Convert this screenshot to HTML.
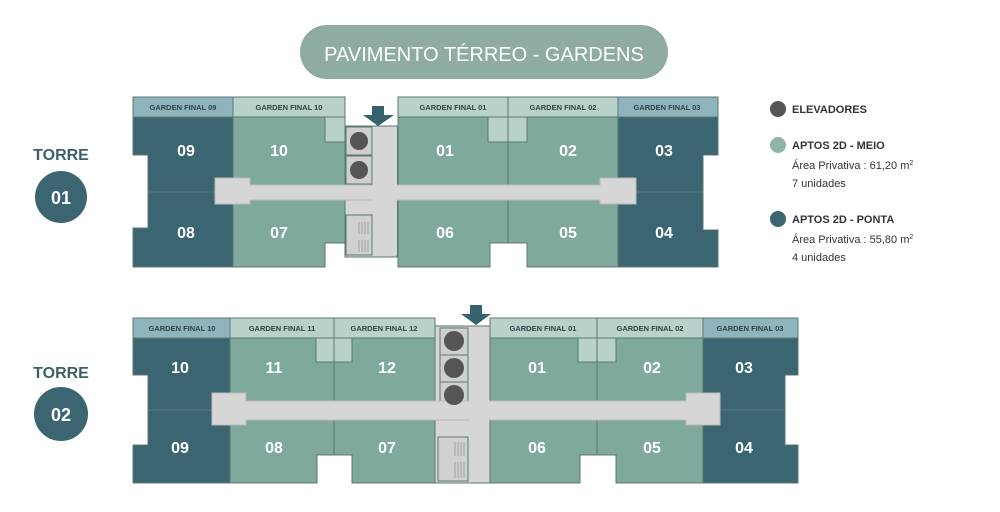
<!DOCTYPE html>
<html><head><meta charset="utf-8"><style>
html,body{margin:0;padding:0;background:#fff;width:1000px;height:512px;overflow:hidden}
svg{display:block}
.g{font-family:"Liberation Sans",sans-serif;font-weight:bold;font-size:7.5px;fill:#2d4448;text-anchor:middle}
.n{font-family:"Liberation Sans",sans-serif;font-weight:bold;font-size:16px;fill:#fff;text-anchor:middle}
.l{font-family:"Liberation Sans",sans-serif;font-size:11px;fill:#333}
</style></head><body>
<svg width="1000" height="512" viewBox="0 0 1000 512" xmlns="http://www.w3.org/2000/svg">
<rect x="300" y="25" width="368" height="54" rx="27" fill="#8eaca1"/>
<text x="484" y="61" text-anchor="middle" font-family="Liberation Sans,sans-serif" font-size="20" fill="#fff">PAVIMENTO TÉRREO - GARDENS</text>

<text x="61" y="160" text-anchor="middle" font-family="Liberation Sans,sans-serif" font-weight="bold" font-size="16" fill="#3e5f66">TORRE</text>
<circle cx="61" cy="197" r="26" fill="#3b6570"/>
<text x="61" y="204" class="n" style="font-size:18px">01</text>
<text x="61" y="378" text-anchor="middle" font-family="Liberation Sans,sans-serif" font-weight="bold" font-size="16" fill="#3e5f66">TORRE</text>
<circle cx="61" cy="414" r="27" fill="#3b6570"/>
<text x="61" y="421" class="n" style="font-size:18px">02</text>

<g stroke="#5c7772" stroke-width="1">
<!-- ===== TOWER 1 ===== -->
<rect x="133" y="97" width="100" height="20" fill="#8fb4bd"/>
<rect x="233" y="97" width="112" height="20" fill="#b8d1ca"/>
<rect x="398" y="97" width="110" height="20" fill="#b8d1ca"/>
<rect x="508" y="97" width="110" height="20" fill="#b8d1ca"/>
<rect x="618" y="97" width="100" height="20" fill="#8fb4bd"/>
<path d="M133 117H233V267H133V228H148V155H133Z" fill="#3b6570"/>
<line x1="148" y1="192" x2="233" y2="192"/>
<rect x="233" y="117" width="112" height="75" fill="#7ea99c"/>
<rect x="325" y="117" width="20" height="25" fill="#b8d1ca"/>
<path d="M233 192H345V243H325V267H233Z" fill="#7ea99c"/>
<rect x="398" y="117" width="110" height="75" fill="#7ea99c"/>
<rect x="488" y="117" width="20" height="25" fill="#b8d1ca"/>
<rect x="508" y="117" width="110" height="75" fill="#7ea99c"/>
<rect x="508" y="117" width="19" height="25" fill="#b8d1ca"/>
<path d="M398 192H508V243H490V267H398Z" fill="#7ea99c"/>
<path d="M508 192H618V267H527V243H508Z" fill="#7ea99c"/>
<path d="M618 117H718V155H703V230H718V267H618Z" fill="#3b6570"/>
<line x1="618" y1="192" x2="703" y2="192"/>
<rect x="345" y="126" width="52" height="131" fill="#d6d6d6"/>
<rect x="346" y="127" width="26" height="28" fill="#cfcfcf"/>
<rect x="346" y="156" width="26" height="28" fill="#cfcfcf"/>
<rect x="346" y="215" width="26" height="40" fill="#d0d0d0"/>
<path d="M215 178H250V185H600V178H636V204H600V200H250V204H215Z" fill="#d6d6d6" stroke="#bbb"/>
<rect x="373" y="127" width="24" height="128" fill="#d6d6d6" stroke="none"/>

<!-- ===== TOWER 2 ===== -->
<rect x="133" y="318" width="97" height="20" fill="#8fb4bd"/>
<rect x="230" y="318" width="104" height="20" fill="#b8d1ca"/>
<rect x="334" y="318" width="101" height="20" fill="#b8d1ca"/>
<rect x="490" y="318" width="107" height="20" fill="#b8d1ca"/>
<rect x="597" y="318" width="106" height="20" fill="#b8d1ca"/>
<rect x="703" y="318" width="95" height="20" fill="#8fb4bd"/>
<path d="M133 338H230V483H133V445H148V375H133Z" fill="#3b6570"/>
<line x1="148" y1="410" x2="230" y2="410"/>
<rect x="230" y="338" width="104" height="72" fill="#7ea99c"/>
<rect x="316" y="338" width="18" height="24" fill="#b8d1ca"/>
<rect x="334" y="338" width="101" height="72" fill="#7ea99c"/>
<rect x="334" y="338" width="18" height="24" fill="#b8d1ca"/>
<path d="M230 410H334V455H317V483H230Z" fill="#7ea99c"/>
<path d="M334 410H435V483H352V455H334Z" fill="#7ea99c"/>
<rect x="490" y="338" width="107" height="72" fill="#7ea99c"/>
<rect x="578" y="338" width="19" height="24" fill="#b8d1ca"/>
<rect x="597" y="338" width="106" height="72" fill="#7ea99c"/>
<rect x="597" y="338" width="19" height="24" fill="#b8d1ca"/>
<path d="M490 410H597V455H580V483H490Z" fill="#7ea99c"/>
<path d="M597 410H703V483H616V455H597Z" fill="#7ea99c"/>
<path d="M703 338H798V375H785V445H798V483H703Z" fill="#3b6570"/>
<line x1="703" y1="410" x2="785" y2="410"/>
<rect x="435" y="326" width="55" height="157" fill="#d6d6d6"/>
<rect x="440" y="328" width="28" height="27" fill="#cfcfcf"/>
<rect x="440" y="355" width="28" height="27" fill="#cfcfcf"/>
<rect x="440" y="382" width="28" height="27" fill="#cfcfcf"/>
<rect x="438" y="437" width="30" height="44" fill="#d0d0d0"/>
<path d="M212 393H246V401H686V393H720V425H686V420H246V425H212Z" fill="#d6d6d6" stroke="#bbb"/>
<rect x="469" y="327" width="20" height="154" fill="#d6d6d6" stroke="none"/>
</g>

<g fill="#555">
<circle cx="359" cy="141" r="9"/><circle cx="359" cy="170" r="9"/>
<circle cx="454" cy="341" r="10"/><circle cx="454" cy="368" r="10"/><circle cx="454" cy="395" r="10"/>
</g>
<g stroke="#999" stroke-width="0.8">
<path d="M359 222V234M362 222V234M365 222V234M368 222V234M359 240V252M362 240V252M365 240V252M368 240V252"/>
<path d="M455 442V456M458 442V456M461 442V456M464 442V456M455 462V478M458 462V478M461 462V478M464 462V478"/>
</g>
<path d="M372 106H384V115H394L378 126L363 115H372Z" fill="#35636d"/>
<path d="M470 305H482V314H491L476 325L461 314H470Z" fill="#35636d"/>

<text class="g" x="183" y="110">GARDEN FINAL 09</text>
<text class="g" x="289" y="110">GARDEN FINAL 10</text>
<text class="g" x="453" y="110">GARDEN FINAL 01</text>
<text class="g" x="563" y="110">GARDEN FINAL 02</text>
<text class="g" x="667" y="110">GARDEN FINAL 03</text>
<text class="g" x="182" y="331">GARDEN FINAL 10</text>
<text class="g" x="282" y="331">GARDEN FINAL 11</text>
<text class="g" x="384" y="331">GARDEN FINAL 12</text>
<text class="g" x="543" y="331">GARDEN FINAL 01</text>
<text class="g" x="650" y="331">GARDEN FINAL 02</text>
<text class="g" x="750" y="331">GARDEN FINAL 03</text>

<text class="n" x="186" y="156">09</text><text class="n" x="279" y="156">10</text>
<text class="n" x="445" y="156">01</text><text class="n" x="568" y="156">02</text><text class="n" x="664" y="156">03</text>
<text class="n" x="186" y="238">08</text><text class="n" x="279" y="238">07</text>
<text class="n" x="445" y="238">06</text><text class="n" x="568" y="238">05</text><text class="n" x="664" y="238">04</text>
<text class="n" x="180" y="373">10</text><text class="n" x="274" y="373">11</text><text class="n" x="387" y="373">12</text>
<text class="n" x="537" y="373">01</text><text class="n" x="652" y="373">02</text><text class="n" x="744" y="373">03</text>
<text class="n" x="180" y="453">09</text><text class="n" x="274" y="453">08</text><text class="n" x="387" y="453">07</text>
<text class="n" x="537" y="453">06</text><text class="n" x="652" y="453">05</text><text class="n" x="744" y="453">04</text>

<circle cx="778" cy="109" r="8" fill="#555"/>
<text class="l" x="792" y="113" font-weight="bold">ELEVADORES</text>
<circle cx="778" cy="145" r="8" fill="#8eb5a8"/>
<text class="l" x="792" y="149" font-weight="bold">APTOS 2D - MEIO</text>
<text class="l" x="792" y="169">Área Privativa : 61,20 m<tspan font-size="7" dy="-4">2</tspan></text>
<text class="l" x="792" y="187">7 unidades</text>
<circle cx="778" cy="219" r="8" fill="#3b6570"/>
<text class="l" x="792" y="223" font-weight="bold">APTOS 2D - PONTA</text>
<text class="l" x="792" y="243">Área Privativa : 55,80 m<tspan font-size="7" dy="-4">2</tspan></text>
<text class="l" x="792" y="261">4 unidades</text>
</svg>
</body></html>
